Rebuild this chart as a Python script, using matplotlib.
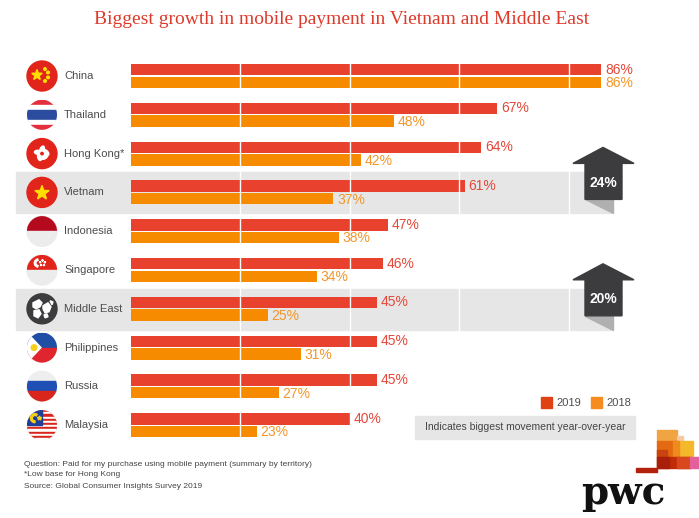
import numpy as np
import matplotlib
matplotlib.use("Agg")
import matplotlib.pyplot as plt
from matplotlib.patches import Rectangle, Circle, Polygon, Ellipse, Wedge

# ---------------- data ----------------
countries = ["China", "Thailand", "Hong Kong*", "Vietnam", "Indonesia",
             "Singapore", "Middle East", "Philippines", "Russia", "Malaysia"]
v2019 = [86, 67, 64, 61, 47, 46, 45, 45, 45, 40]
v2018 = [86, 48, 42, 37, 38, 34, 25, 31, 27, 23]
highlight = {"Vietnam": "24%", "Middle East": "20%"}
series_names = ["2019", "2018"]
title = "Biggest growth in mobile payment in Vietnam and Middle East"
notes = ["Question: Paid for my purchase using mobile payment (summary by territory)",
         "*Low base for Hong Kong",
         "Source: Global Consumer Insights Survey 2019"]
box_text = "Indicates biggest movement year-over-year"

# ---------------- style ----------------
RED = "#e8412d"
ORANGE = "#f68b00"
LAB_RED = "#e4483a"
LAB_OR = "#f2962a"
BAND = "#e6e6e6"
DARK = "#3c3c3e"
TXT = "#4d4d4d"
SANS = "Liberation Sans"

W, H = 699, 518
ROW0, ROWH = 76.0, 38.8
X0, PXU = 131.0, 5.47

fig = plt.figure(figsize=(W / 100, H / 100), dpi=100)
bg = fig.add_axes([0, 0, 1, 1], zorder=0)
bg.set_xlim(0, W)
bg.set_ylim(H, 0)
bg.axis("off")

n = len(countries)
top_px = ROW0 - ROWH / 2
ax = fig.add_axes([X0 / W, 1 - (top_px + ROWH * n) / H, 100 * PXU / W, ROWH * n / H], zorder=1)
ax.set_xlim(0, 100)
ax.set_ylim(n - 0.5, -0.5)
ax.axis("off")
ax.patch.set_alpha(0)

ov = fig.add_axes([0, 0, 1, 1], zorder=2)
ov.set_xlim(0, W)
ov.set_ylim(H, 0)
ov.axis("off")
ov.patch.set_alpha(0)

y = np.arange(n)
off, bh = 0.163, 0.297
ax.barh(y - off, v2019, height=bh, color=RED, zorder=2)
ax.barh(y + off, v2018, height=bh, color=ORANGE, zorder=2)
for g in [20, 40, 60, 80]:
    ax.axvline(g, color="white", lw=1.0, zorder=3)
for i in range(n):
    ax.text(v2019[i] + 0.7, y[i] - off, f"{v2019[i]}%", va="center", ha="left",
            fontsize=10, color=LAB_RED, family=SANS)
    ax.text(v2018[i] + 0.7, y[i] + off + 0.02, f"{v2018[i]}%", va="center", ha="left",
            fontsize=10, color=LAB_OR, family=SANS)


def rowc(i):
    return ROW0 + ROWH * i


# highlight bands and arrows
for name, txt in highlight.items():
    i = countries.index(name)
    c = rowc(i)
    bg.add_patch(Rectangle((16, c - 20), 612 - 16, 41, color=BAND, zorder=0))
    bg.add_patch(Polygon([(585, c + 7), (613, c + 7), (613, c + 21)], closed=True,
                         color="#b0b0b0", zorder=2))
    bg.add_patch(Polygon([(585, c + 7), (585, c - 29), (573, c - 29), (603, c - 45),
                          (634, c - 29), (622, c - 29), (622, c + 7)], closed=True,
                         color=DARK, zorder=3))
    bg.text(603.5, c - 9.5, txt, color="white", fontsize=10, fontweight="bold",
            ha="center", va="center", family=SANS, zorder=4)

# country names
for i, name in enumerate(countries):
    bg.text(64, rowc(i), name, fontsize=8, color=TXT, va="center", ha="left", family=SANS)


# ---------------- flags ----------------
FX, R = 42.0, 15.0


def star(cx, cy, r, rot=0.0):
    pts = []
    for k in range(10):
        a = np.pi / 5 * k + rot
        rr = r if k % 2 == 0 else r * 0.4
        pts.append((cx + rr * np.sin(a), cy - rr * np.cos(a)))
    return pts


def clipped(patch, clip):
    bg.add_patch(patch)
    patch.set_clip_path(clip)


def base_circle(cy, color):
    c = Circle((FX, cy), R, color=color, zorder=2)
    bg.add_patch(c)
    return c


def stripes(cy, colors_fracs, clip):
    yy = cy - R
    for col, fr in colors_fracs:
        clipped(Rectangle((FX - R, yy), 2 * R, 2 * R * fr, color=col, zorder=3), clip)
        yy += 2 * R * fr


for i, name in enumerate(countries):
    cy = rowc(i)
    if name == "China":
        c = base_circle(cy, "#e1251b")
        bg.add_patch(Polygon(star(FX - 5, cy - 1, 5.5), color="#ffde00", zorder=3))
        for dx, dy in [(3, -7), (6, -3.5), (6, 1.5), (3, 5)]:
            bg.add_patch(Polygon(star(FX + dx, cy + dy, 1.8), color="#ffde00", zorder=3))
    elif name == "Thailand":
        c = base_circle(cy, "white")
        stripes(cy, [("#e3303c", 1 / 6), ("white", 1 / 6), ("#2b4c9f", 2 / 6),
                     ("white", 1 / 6), ("#e3303c", 1 / 6)], c)
    elif name == "Hong Kong*":
        c = base_circle(cy, "#e1251b")
        for k in range(5):
            a = 2 * np.pi * k / 5
            ex, ey = FX + 4.0 * np.sin(a), cy - 4.0 * np.cos(a)
            bg.add_patch(Ellipse((ex, ey), 4, 7.5, angle=np.degrees(-a) + 25,
                                 color="white", zorder=3))
        bg.add_patch(Circle((FX, cy), 1.2, color="#e1251b", zorder=4))
    elif name == "Vietnam":
        c = base_circle(cy, "#e1251b")
        bg.add_patch(Polygon(star(FX, cy + 0.5, 7.5), color="#ffde00", zorder=3))
    elif name == "Indonesia":
        c = base_circle(cy, "#ececec")
        stripes(cy, [("#b50a1e", 0.5), ("#ececec", 0.5)], c)
    elif name == "Singapore":
        c = base_circle(cy, "#ececec")
        stripes(cy, [("#e1251b", 0.5), ("#ececec", 0.5)], c)
        bg.add_patch(Wedge((FX - 3.5, cy - 7), 4.2, 100, 260, width=1.6,
                           color="white", zorder=4))
        for k in range(5):
            a = 2 * np.pi * k / 5
            bg.add_patch(Polygon(star(FX + 0.5 + 2.5 * np.sin(a), cy - 7 - 2.5 * np.cos(a), 0.9),
                                 color="white", zorder=4))
    elif name == "Middle East":
        c = base_circle(cy, DARK)
        blobs = [
            [(-9, -6), (-3, -9), (0, -6), (-2, -2), (-6, 0), (-9, -2)],
            [(-8, 2), (-3, 1), (-1, 5), (-4, 9), (-8, 7)],
            [(1, -3), (6, -6), (9, -2), (7, 3), (3, 4), (1, 0)],
            [(2, 6), (5, 5), (6, 8), (3, 9)],
            [(8, -8), (11, -7), (10, -4)],
        ]
        for b in blobs:
            clipped(Polygon([(FX + dx, cy + dy) for dx, dy in b], color="white", zorder=3), c)
    elif name == "Philippines":
        c = base_circle(cy, "white")
        stripes(cy, [("#1f4ea5", 0.5), ("#e0252f", 0.5)], c)
        clipped(Polygon([(FX - R, cy - R), (FX - R, cy + R), (FX - 1, cy)],
                        color="white", zorder=4), c)
        bg.add_patch(Circle((FX - 8, cy), 2.8, color="#f7d117", zorder=5))
    elif name == "Russia":
        c = base_circle(cy, "#eeeeee")
        stripes(cy, [("#eeeeee", 1 / 3), ("#1f4fb5", 1 / 3), ("#d9261c", 1 / 3)], c)
    elif name == "Malaysia":
        c = base_circle(cy, "white")
        fr = 1 / 14
        stripes(cy, [("#d9261c" if k % 2 == 0 else "white", fr) for k in range(14)], c)
        clipped(Rectangle((FX - R, cy - R), R, R, color="#1f3f9a", zorder=4), c)
        bg.add_patch(Wedge((FX - 7, cy - 7), 4.5, 90, 300, width=1.8,
                           color="#f7d117", zorder=5))
        bg.add_patch(Polygon(star(FX - 2.5, cy - 7, 2.2), color="#f7d117", zorder=5))

# ---------------- title ----------------
bg.text(342, 19, title, fontsize=14, color="#dc3a2a", ha="center", va="center",
        family="Liberation Serif")

# ---------------- legend ----------------
for col, lab, x in [("#df4314", series_names[0], 541), ("#f68b1f", series_names[1], 591)]:
    ov.add_patch(Rectangle((x, 397), 11, 11, color=col, zorder=2))
    ov.text(x + 15, 402.5, lab, fontsize=8, color=TXT, va="center", ha="left", family=SANS)

ov.add_patch(Rectangle((415, 416), 220, 23, color=BAND, zorder=1))
ov.text(525, 427.5, box_text, fontsize=7.5, color="#444444", va="center", ha="center",
        family=SANS, zorder=2)

# ---------------- footnotes ----------------
for k, t in enumerate(notes):
    bg.text(24, 464 + 11 * k, t, fontsize=6.0, color="#444444", va="center", ha="left",
            family=SANS)

# ---------------- logo ----------------
logo = [
    ((657, 430), 20, 11, "#f0a443"),
    ((677, 436), 6, 6, "#f7c9a0"),
    ((657, 441), 21, 16, "#e36a10"),
    ((678, 441), 15, 16, "#f4b92a"),
    ((673, 441), 6, 16, "#ee8a1e"),
    ((657, 450), 10, 7, "#c8430e"),
    ((657, 457), 34, 11, "#c22b08"),
    ((657, 457), 12, 11, "#a8200a"),
    ((677, 457), 13, 11, "#d9471c"),
    ((690, 457), 9, 11, "#e4609a"),
    ((636, 468), 21, 4, "#b3200c"),
]
for (x, yy), w, h, col in logo:
    ov.add_patch(Rectangle((x, yy), w, h, color=col, zorder=2))
ov.text(581, 504, "pwc", fontsize=28, fontweight="bold", family="DejaVu Serif",
        color="#111111", ha="left", va="baseline")

fig.savefig("out.png", dpi=100)
